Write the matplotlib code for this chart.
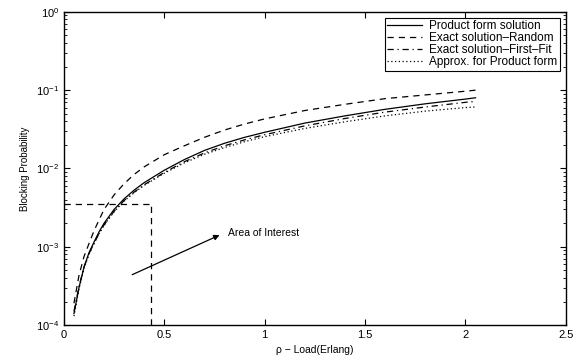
import numpy as np
import matplotlib
matplotlib.use("Agg")
import matplotlib.pyplot as plt

plt.rcParams['font.family'] = ['Liberation Sans', 'DejaVu Sans']

# load (Erlang)
rho = [0.05, 0.075, 0.1, 0.125, 0.15, 0.175, 0.2, 0.25, 0.3, 0.35, 0.4, 0.5,
       0.6, 0.7, 0.8, 0.9, 1.0, 1.2, 1.4, 1.6, 1.8, 2.0, 2.05]

product_form = [1.4e-4, 3.0e-4, 5.5e-4, 8.4e-4, 1.15e-3, 1.55e-3, 2.0e-3, 3.0e-3,
                4.1e-3, 5.3e-3, 6.6e-3, 9.5e-3, 1.3e-2, 1.7e-2, 2.1e-2, 2.5e-2,
                2.9e-2, 3.8e-2, 4.7e-2, 5.7e-2, 6.7e-2, 7.7e-2, 8.0e-2]
exact_random = [1.9e-4, 4.3e-4, 7.5e-4, 1.1e-3, 1.6e-3, 2.2e-3, 3.0e-3, 4.6e-3,
                6.4e-3, 8.4e-3, 1.05e-2, 1.5e-2, 1.95e-2, 2.5e-2, 3.1e-2, 3.7e-2,
                4.3e-2, 5.5e-2, 6.6e-2, 7.8e-2, 8.7e-2, 9.7e-2, 1.0e-1]
exact_firstfit = [1.5e-4, 3.1e-4, 5.5e-4, 8.2e-4, 1.1e-3, 1.48e-3, 1.9e-3, 2.85e-3,
                  3.9e-3, 5.0e-3, 6.2e-3, 8.9e-3, 1.22e-2, 1.58e-2, 1.95e-2, 2.32e-2,
                  2.7e-2, 3.5e-2, 4.35e-2, 5.25e-2, 6.1e-2, 7.0e-2, 7.2e-2]
approx_product = [1.3e-4, 2.9e-4, 5.3e-4, 8.0e-4, 1.1e-3, 1.47e-3, 1.88e-3, 2.8e-3,
                  3.85e-3, 4.9e-3, 6.1e-3, 8.7e-3, 1.18e-2, 1.52e-2, 1.85e-2, 2.2e-2,
                  2.55e-2, 3.25e-2, 3.95e-2, 4.7e-2, 5.4e-2, 6.0e-2, 6.1e-2]

labels = ["Product form solution", "Exact solution\u2013Random",
          "Exact solution\u2013First\u2013Fit", "Approx. for Product form"]

# area of interest box
box_x = 0.435
box_y = 3.5e-3

fig = plt.figure(figsize=(5.81, 3.6), dpi=100)
ax = fig.add_axes([0.110, 0.097, 0.864, 0.870])

ax.semilogy(rho, product_form, 'k-', lw=0.9, label=labels[0])
ax.semilogy(rho, exact_random, 'k--', lw=0.9, dashes=(5, 4), label=labels[1])
ax.semilogy(rho, exact_firstfit, 'k-.', lw=0.9, dashes=(5, 3, 1, 3), label=labels[2])
ax.semilogy(rho, approx_product, color='k', lw=0.9, ls=(0, (1, 2)), label=labels[3])

ax.plot([0, box_x], [box_y, box_y], 'k--', lw=0.9, dashes=(5, 4))
ax.plot([box_x, box_x], [1e-4, box_y], 'k--', lw=0.9, dashes=(5, 4))

ax.annotate("", xy=(0.775, 1.41e-3), xytext=(0.34, 4.4e-4),
            arrowprops=dict(arrowstyle='-|>', color='k', lw=0.9,
                            mutation_scale=8, shrinkA=0, shrinkB=0))
ax.text(0.815, 1.5e-3, "Area of Interest", fontsize=7.5, va='center', ha='left')

ax.set_xlim(0, 2.5)
ax.set_ylim(1e-4, 1)
ax.set_xticks([0, 0.5, 1, 1.5, 2, 2.5])
ax.set_xticklabels(["0", "0.5", "1", "1.5", "2", "2.5"])
ax.tick_params(which='both', direction='in', top=True, right=True, labelsize=8)
ax.tick_params(which='major', length=4)
ax.tick_params(which='minor', length=2)
for s in ax.spines.values():
    s.set_linewidth(1.0)

ax.set_xlabel("\u03c1 \u2212 Load(Erlang)", fontsize=7.5)
ax.set_ylabel("Blocking Probability", fontsize=7)

leg = ax.legend(loc='upper right', fontsize=8.5, handlelength=3.0, borderpad=0.2,
                labelspacing=0.0, handletextpad=0.6, fancybox=False,
                framealpha=1, edgecolor='k', borderaxespad=0.5)
leg.get_frame().set_linewidth(0.8)

fig.savefig("out.png", dpi=100)
